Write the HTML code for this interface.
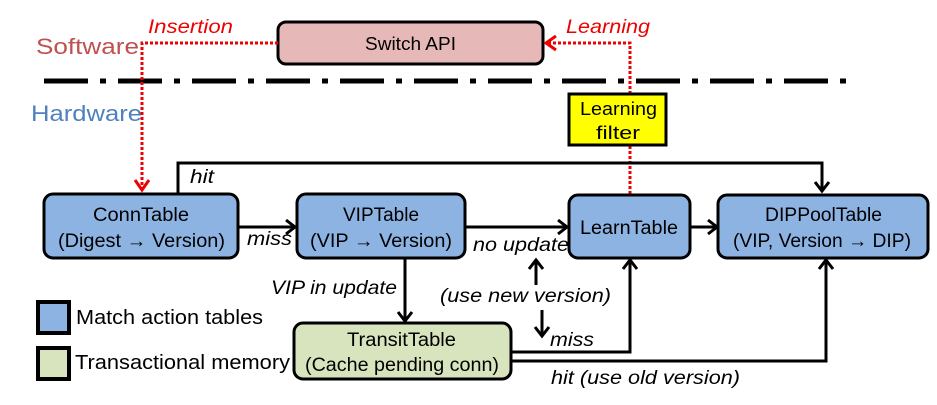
<!DOCTYPE html>
<html><head><meta charset="utf-8"><style>
html,body{margin:0;padding:0;background:#fff;width:937px;height:405px;overflow:hidden}
svg{display:block}
text{font-family:"Liberation Sans",sans-serif}
</style></head><body>
<svg width="937" height="405" viewBox="0 0 937 405" xmlns="http://www.w3.org/2000/svg">
<line x1="44" y1="81" x2="850" y2="81" stroke="#000" stroke-width="5" stroke-dasharray="44,12,6,12"/>
<text x="36" y="54" font-size="22" fill="#c0504d" textLength="103" lengthAdjust="spacingAndGlyphs">Software</text>
<text x="31" y="121" font-size="22" fill="#4f81bd" textLength="111" lengthAdjust="spacingAndGlyphs">Hardware</text>
<rect x="278" y="22" width="265" height="42" rx="8" fill="#e6b9b8" stroke="#000" stroke-width="3"/>
<text x="365" y="50" font-size="18" textLength="91" lengthAdjust="spacingAndGlyphs">Switch API</text>
<path d="M278 43 H142 V188" fill="none" stroke="#e00" stroke-width="3" stroke-dasharray="3,2"/>
<path d="M135 180 L142 190 L149 180" fill="none" stroke="#e00" stroke-width="3"/>
<path d="M630 194 V43 H548" fill="none" stroke="#e00" stroke-width="3" stroke-dasharray="3,2"/>
<path d="M556 36 L546 43 L556 50" fill="none" stroke="#e00" stroke-width="3"/>
<text x="148" y="33" font-size="19" font-style="italic" fill="#e00" textLength="85" lengthAdjust="spacingAndGlyphs">Insertion</text>
<text x="566" y="33" font-size="19" font-style="italic" fill="#e00" textLength="84" lengthAdjust="spacingAndGlyphs">Learning</text>
<rect x="569" y="94" width="97" height="51" fill="#ffff00" stroke="#000" stroke-width="3"/>
<text x="580" y="115" font-size="18" textLength="77" lengthAdjust="spacingAndGlyphs">Learning</text>
<text x="596" y="139" font-size="18" textLength="44" lengthAdjust="spacingAndGlyphs">filter</text>
<path d="M178 194 V163 H822 V190" fill="none" stroke="#000" stroke-width="3"/>
<path d="M815 182 L822 191 L829 182" fill="none" stroke="#000" stroke-width="3"/>
<text x="190" y="183" font-size="19" font-style="italic" textLength="24" lengthAdjust="spacingAndGlyphs">hit</text>
<rect x="44" y="194" width="194" height="64" rx="9" fill="#8db3e2" stroke="#000" stroke-width="3"/>
<text x="93" y="221" font-size="19" textLength="96" lengthAdjust="spacingAndGlyphs">ConnTable</text>
<text x="58" y="247" font-size="19" textLength="167" lengthAdjust="spacingAndGlyphs">(Digest → Version)</text>
<rect x="297" y="194" width="168" height="64" rx="9" fill="#8db3e2" stroke="#000" stroke-width="3"/>
<text x="343" y="221" font-size="19" textLength="76" lengthAdjust="spacingAndGlyphs">VIPTable</text>
<text x="310" y="247" font-size="19" textLength="142" lengthAdjust="spacingAndGlyphs">(VIP → Version)</text>
<rect x="569" y="195" width="121" height="63" rx="9" fill="#8db3e2" stroke="#000" stroke-width="3"/>
<text x="580" y="234" font-size="19" textLength="98" lengthAdjust="spacingAndGlyphs">LearnTable</text>
<rect x="718" y="195" width="210" height="63" rx="9" fill="#8db3e2" stroke="#000" stroke-width="3"/>
<text x="765" y="221" font-size="19" textLength="117" lengthAdjust="spacingAndGlyphs">DIPPoolTable</text>
<text x="733" y="247" font-size="19" textLength="178" lengthAdjust="spacingAndGlyphs">(VIP, Version → DIP)</text>
<rect x="294" y="323" width="217" height="56" rx="9" fill="#d7e4bd" stroke="#000" stroke-width="3"/>
<text x="347" y="346" font-size="19" textLength="109" lengthAdjust="spacingAndGlyphs">TransitTable</text>
<text x="305" y="371" font-size="19" textLength="194" lengthAdjust="spacingAndGlyphs">(Cache pending conn)</text>
<g fill="none" stroke="#000" stroke-width="3">
<path d="M238 227 H294"/><path d="M286 220 L295 227 L286 234"/>
<path d="M465 227 H566"/><path d="M558 220 L567 227 L558 234"/>
<path d="M690 227 H716"/><path d="M708 220 L717 227 L708 234"/>
<path d="M405 258 V320"/><path d="M398 312 L405 321 L412 312"/>
<path d="M536 285 V261"/><path d="M529 269 L536 260 L543 269"/>
<path d="M542 310 V335"/><path d="M535 327 L542 336 L549 327"/>
<path d="M511 352 H630 V261"/><path d="M623 269 L630 260 L637 269"/>
<path d="M511 361 H826 V261"/><path d="M819 269 L826 260 L833 269"/>
</g>
<g font-size="19" font-style="italic">
<text x="247" y="245" textLength="45" lengthAdjust="spacingAndGlyphs">miss</text>
<text x="473" y="251" textLength="96" lengthAdjust="spacingAndGlyphs">no update</text>
<text x="271" y="294" textLength="126" lengthAdjust="spacingAndGlyphs">VIP in update</text>
<text x="440" y="302" textLength="171" lengthAdjust="spacingAndGlyphs">(use new version)</text>
<text x="550" y="346" textLength="44" lengthAdjust="spacingAndGlyphs">miss</text>
<text x="551" y="384" textLength="189" lengthAdjust="spacingAndGlyphs">hit (use old version)</text>
</g>
<rect x="38" y="302" width="31" height="31" fill="#8db3e2" stroke="#000" stroke-width="4"/>
<rect x="38" y="348" width="31" height="31" fill="#d7e4bd" stroke="#000" stroke-width="4"/>
<text x="76" y="324" font-size="20" textLength="187" lengthAdjust="spacingAndGlyphs">Match action tables</text>
<text x="75" y="369" font-size="20" textLength="215" lengthAdjust="spacingAndGlyphs">Transactional memory</text>
</svg>
</body></html>
